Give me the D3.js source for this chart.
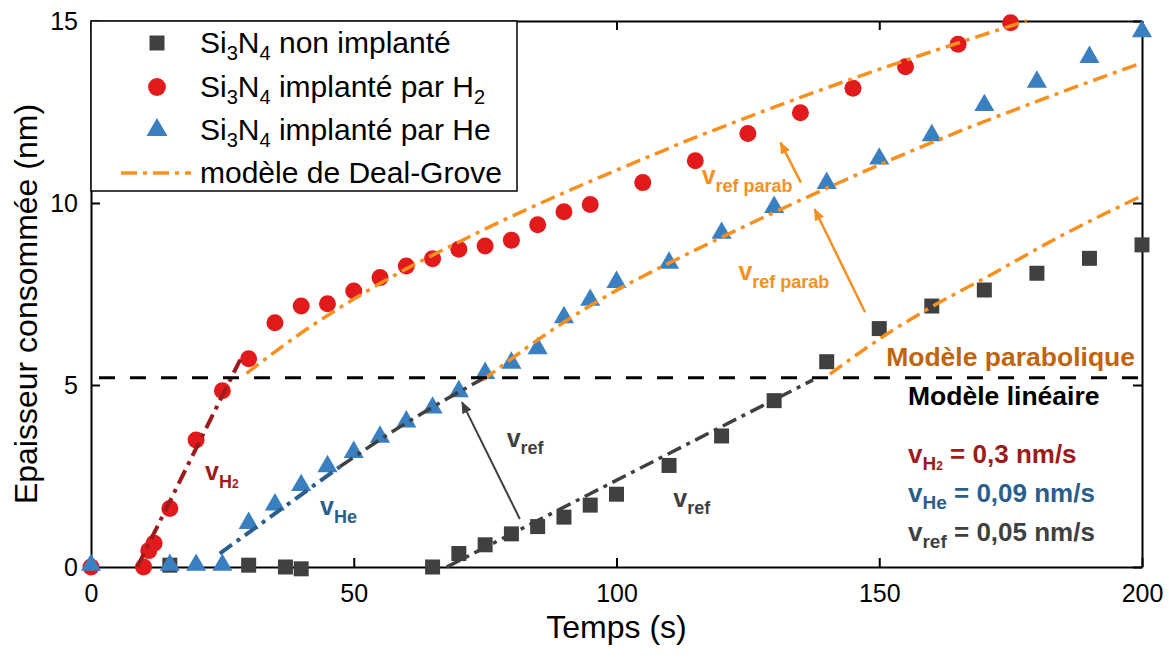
<!DOCTYPE html>
<html><head><meta charset="utf-8">
<script src="https://cdn.jsdelivr.net/npm/d3@7"></script>
<style>body{margin:0;background:#fff} svg{display:block} text{font-family:"Liberation Sans",Arial,sans-serif}</style>
</head><body>
<svg id="c" width="1169" height="660"></svg>
<script>
// ---------- data ----------
const xTicks = [0, 50, 100, 150, 200];
const yTicks = [0, 5, 10, 15];
const refData = [[15,0.05],[30,0.05],[37,0],[40,-0.05],[65,0],[70,0.37],[75,0.61],[80,0.91],[85,1.11],[90,1.37],[95,1.7],[100,2.0],[110,2.79],[120,3.6],[130,4.57],[140,5.64],[150,6.55],[160,7.17],[170,7.61],[180,8.07],[190,8.48],[200,8.85]];
const h2Data = [[0,0],[10,0],[11,0.45],[12,0.65],[15,1.61],[20,3.49],[25,4.84],[30,5.72],[35,6.71],[40,7.17],[45,7.23],[50,7.58],[55,7.95],[60,8.27],[65,8.47],[70,8.73],[75,8.82],[80,8.98],[85,9.4],[90,9.76],[95,9.96],[105,10.56],[115,11.16],[125,11.91],[135,12.48],[145,13.15],[155,13.74],[165,14.36],[175,14.95]];
const heData = [[0,0],[15,0],[20,0],[25,0],[30,1.15],[35,1.66],[40,2.19],[45,2.71],[50,3.1],[55,3.52],[60,3.94],[65,4.32],[70,4.77],[75,5.27],[80,5.55],[85,5.95],[90,6.8],[95,7.28],[100,7.77],[110,8.3],[120,9.12],[130,9.83],[140,10.49],[150,11.16],[160,11.8],[170,12.63],[180,13.27],[190,13.95],[200,14.66]];
// linear model fits
const linH2 = [[8.8,0],[28.4,5.7]];
const linHe = [[24.5,0.37],[47.4,2.76]];
const linHeRef = [[47.4,2.76],[58.8,3.85],[65.1,4.4],[75.3,5.23]];
const linRef = [[67.7,0],[137.4,5.14]];
// Deal-Grove model curves
const dgH2 = [[29.6,5.32],[40,6.43],[50,7.36],[60,8.19],[70,8.93],[80,9.63],[90,10.28],[100,10.9],[115,11.8],[125,12.36],[135,12.9],[145,13.42],[160,14.16],[178,15.0]];
const dgHe = [[74.6,5.14],[89.2,6.65],[100,7.6],[110,8.35],[119.9,9.05],[139.9,10.4],[159.8,11.65],[181.6,12.88],[200,13.85]];
const dgRef = [[140.6,5.3],[152,6.45],[160,7.15],[170.5,7.97],[185.3,9.15],[200,10.2]];
const threshold = 5.2;
const legendLabels = [["Si","3","N","4"," non implanté"],["Si","3","N","4"," implanté par H","2"],["Si","3","N","4"," implanté par He"],["modèle de Deal-Grove"]];

// ---------- setup ----------
const svg = d3.select("#c");
const L = 91, R = 1142, T = 21, B = 567;
const x = d3.scaleLinear().domain([0, 200]).range([L, R]);
const y = d3.scaleLinear().domain([0, 15]).range([B, T]);

const C = {ref:"#404040", h2:"#e31a1c", he:"#3a7fbf", orange:"#f7901e", dred:"#9e1b1b", dblue:"#2a5e8c", brown:"#c0650e"};

// axes
const fontTick = 25;
const gx = svg.append("g").attr("transform",`translate(0,${B})`)
  .call(d3.axisBottom(x).tickValues(xTicks).tickSizeInner(-9).tickSizeOuter(0).tickPadding(17));
const gy = svg.append("g").attr("transform",`translate(${L},0)`)
  .call(d3.axisLeft(y).tickValues(yTicks).tickSizeInner(-9).tickSizeOuter(0).tickPadding(13));
const gt = svg.append("g").attr("transform",`translate(0,${T})`)
  .call(d3.axisTop(x).tickValues(xTicks).tickSizeInner(-9).tickSizeOuter(0).tickFormat(""));
const gr = svg.append("g").attr("transform",`translate(${R},0)`)
  .call(d3.axisRight(y).tickValues(yTicks).tickSizeInner(-9).tickSizeOuter(0).tickFormat(""));
[gx,gy,gt,gr].forEach(g=>{
  g.select(".domain").attr("stroke","#000").attr("stroke-width",2);
  g.selectAll(".tick line").attr("stroke","#000").attr("stroke-width",2);
  g.selectAll(".tick text").attr("font-size",fontTick).attr("fill","#000").style("font-family",'"Liberation Sans",Arial,sans-serif');
});

// axis titles
svg.append("text").attr("x",(L+R)/2).attr("y",638).attr("text-anchor","middle").attr("font-size",32).text("Temps (s)");
svg.append("text").attr("transform",`translate(37,${(T+B)/2+10}) rotate(-90)`).attr("text-anchor","middle").attr("font-size",32).text("Epaisseur consommée (nm)");

// ---------- markers ----------
const sq = d3.symbol().type(d3.symbolSquare).size(225);
const ci = d3.symbol().type(d3.symbolCircle).size(227);
const tr = d3.symbol().type(d3.symbolTriangle).size(175);
svg.append("g").selectAll("path").data(refData).join("path")
  .attr("d",sq).attr("transform",d=>`translate(${x(d[0])},${y(d[1])})`).attr("fill",C.ref);
svg.append("g").selectAll("path").data(h2Data).join("path")
  .attr("d",ci).attr("transform",d=>`translate(${x(d[0])},${y(d[1])})`).attr("fill",C.h2);
svg.append("g").selectAll("path").data(heData).join("path")
  .attr("d",tr).attr("transform",d=>`translate(${x(d[0])},${y(d[1])-2})`).attr("fill",C.he);

// ---------- lines ----------
const line = d3.line().x(d=>x(d[0])).y(d=>y(d[1])).curve(d3.curveMonotoneX);
const dashDot = "15,6,4,6";
function drawLine(data,color,w){
  svg.append("path").datum(data).attr("d",line).attr("fill","none").attr("stroke",color)
    .attr("stroke-width",w).attr("stroke-dasharray",dashDot);
}
drawLine(linH2,C.dred,4);
drawLine(linHe,C.dblue,4);
drawLine(linHeRef,C.ref,3.5);
drawLine(linRef,C.ref,3.5);
drawLine(dgH2,C.orange,3.5);
drawLine(dgHe,C.orange,3.5);
drawLine(dgRef,C.orange,3.5);

// threshold dashed line
svg.append("line").attr("x1",x(0)+8).attr("x2",x(200)).attr("y1",y(threshold)).attr("y2",y(threshold))
  .attr("stroke","#000").attr("stroke-width",3).attr("stroke-dasharray","16,15");

// ---------- arrows ----------
const defs = svg.append("defs");
function mk(id,color){
  defs.append("marker").attr("id",id).attr("viewBox","0 0 12 10").attr("refX",11).attr("refY",5)
    .attr("markerWidth",12).attr("markerHeight",10).attr("markerUnits","userSpaceOnUse").attr("orient","auto")
    .append("path").attr("d","M0,0 L12,5 L0,10 Z").attr("fill",color);
}
mk("ag",C.ref); mk("ao",C.orange);
function arrow(a,b,color,id,w){
  svg.append("line").attr("x1",x(a[0])).attr("y1",y(a[1])).attr("x2",x(b[0])).attr("y2",y(b[1]))
    .attr("stroke",color).attr("stroke-width",w).attr("marker-end",`url(#${id})`);
}
arrow([81.6,1.32],[70.6,4.53],C.ref,"ag",2);
arrow([147.3,7.0],[137.7,9.83],C.orange,"ao",2.5);
arrow([135.1,10.56],[131.2,11.66],C.orange,"ao",2.5);

// ---------- rich text helper ----------
function rich(px,py,parts,color,anchor){
  const t = svg.append("text").attr("x",px).attr("y",py).attr("fill",color).attr("font-weight","bold");
  if(anchor) t.attr("text-anchor",anchor);
  let cur = 0;
  parts.forEach(p=>{
    const dy = (p.dy||0) - cur; cur = p.dy||0;
    t.append("tspan").attr("dy",dy).attr("font-size",p.s).text(p.t);
  });
  return t;
}
// in-plot labels
rich(x(21.69),y(2.39),[{t:"v",s:25},{t:"H",s:18,dy:8},{t:"2",s:12,dy:8}],C.dred);
rich(x(43.58),y(1.43),[{t:"v",s:25},{t:"He",s:18,dy:8}],C.dblue);
rich(x(79.1),y(3.3),[{t:"v",s:25},{t:"ref",s:18,dy:7}],C.ref);
rich(x(110.8),y(1.66),[{t:"v",s:25},{t:"ref",s:18,dy:7}],C.ref);
rich(x(116.2),y(10.51),[{t:"v",s:25},{t:"ref parab",s:18,dy:8}],C.orange);
rich(x(123.2),y(7.88),[{t:"v",s:25},{t:"ref parab",s:18,dy:8}],C.orange);

// right block
rich(1135,366,[{t:"Modèle parabolique",s:26.5}],C.brown,"end");
rich(908,405,[{t:"Modèle linéaire",s:26.5}],"#000");
rich(908,463,[{t:"v",s:26},{t:"H",s:19,dy:7},{t:"2",s:12,dy:7},{t:" = 0,3 nm/s",s:26,dy:0}],C.dred);
rich(908,502,[{t:"v",s:26},{t:"He",s:19,dy:7},{t:" = 0,09 nm/s",s:26,dy:0}],C.dblue);
rich(908,541,[{t:"v",s:26},{t:"ref",s:19,dy:7},{t:" = 0,05 nm/s",s:26,dy:0}],C.ref);

// ---------- legend ----------
const lg = svg.append("g");
lg.append("rect").attr("x",L).attr("y",T).attr("width",517-L).attr("height",191-T)
  .attr("fill","#fff").attr("stroke","#000").attr("stroke-width",1.5);
const rowY = [43, 87, 130, 173];
lg.append("path").attr("d",d3.symbol().type(d3.symbolSquare).size(225)).attr("transform",`translate(157,${rowY[0]})`).attr("fill",C.ref);
lg.append("path").attr("d",d3.symbol().type(d3.symbolCircle).size(250)).attr("transform",`translate(157,${rowY[1]})`).attr("fill",C.h2);
lg.append("path").attr("d",d3.symbol().type(d3.symbolTriangle).size(190)).attr("transform",`translate(157,${rowY[2]})`).attr("fill",C.he);
lg.append("line").attr("x1",121).attr("x2",191).attr("y1",rowY[3]).attr("y2",rowY[3]).attr("stroke",C.orange)
  .attr("stroke-width",3.5).attr("stroke-dasharray","16,6,4,6");
legendLabels.forEach((parts,i)=>{
  const t = lg.append("text").attr("x",200).attr("y",rowY[i]+10).attr("font-size",30).attr("fill","#000");
  let sub=false;
  parts.forEach(p=>{
    const isSub = /^[0-9]$/.test(p);
    const ts = t.append("tspan").text(p);
    if(isSub && !sub){ ts.attr("dy",7).attr("font-size",20); sub=true; }
    else if(!isSub && sub){ ts.attr("dy",-7); sub=false; }
    else if(isSub) ts.attr("font-size",20);
  });
});
</script>
</body></html>
